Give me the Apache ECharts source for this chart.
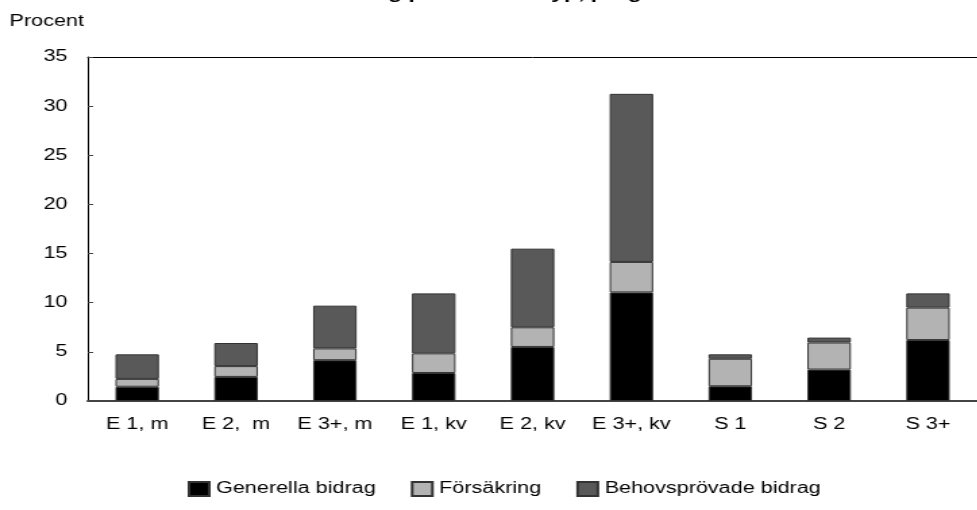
<!DOCTYPE html>
<html>
<head>
<meta charset="utf-8">
<script src="https://cdn.jsdelivr.net/npm/echarts@6/dist/echarts.min.js"></script>
<style>
  html, body { margin: 0; padding: 0; background: #fff; overflow: hidden; }
  /* the original picture is stretched sideways, so draw narrower and stretch */
  #chart { width: 724px; height: 510px; transform: scaleX(1.35); transform-origin: 0 0; }
</style>
</head>
<body>
<div id="chart"></div>
<script>
  // hushållstyper
  const categories = ['E 1, m', 'E 2,  m', 'E 3+, m', 'E 1, kv', 'E 2, kv', 'E 3+, kv', 'S 1', 'S 2', 'S 3+'];
  const generella = [1.45, 2.45, 4.15, 2.85, 5.5, 11.05, 1.5, 3.2, 6.2];
  const forsakring = [0.8, 1.1, 1.2, 2.0, 2.0, 3.1, 2.8, 2.75, 3.3];
  const behovsprovade = [2.5, 2.35, 4.35, 6.1, 8.0, 17.1, 0.45, 0.5, 1.45];
  const yTicks = [0, 5, 10, 15, 20, 25, 30, 35];

  const font = 'Liberation Sans, Arial, sans-serif';
  const chart = echarts.init(document.getElementById('chart'));

  function bar(name, data, color) {
    return {
      name: name,
      type: 'bar',
      stack: 'tot',
      data: data,
      barWidth: '44%',
      itemStyle: { color: color, borderColor: '#333', borderWidth: 1 },
    };
  }

  chart.setOption({
    animation: false,
    title: {
      text: 'Bidrag per hushållstyp, progressivitet',
      left: 392,
      textAlign: 'center',
      top: -19,
      textStyle: { fontFamily: font, fontSize: 17, fontWeight: 'bold', color: '#000' },
    },
    grid: { left: 65, right: -2, top: 57, bottom: 109 },
    legend: {
      bottom: 8,
      left: 134,
      itemWidth: 15,
      itemHeight: 14,
      itemGap: 26,
      icon: 'rect',
      textStyle: { fontFamily: font, fontSize: 16, color: '#000' },
    },
    graphic: [{
      type: 'text',
      left: 7,
      top: 14,
      style: { text: 'Procent', font: '16px ' + font, fill: '#000' },
    }],
    xAxis: [
      {
        type: 'category',
        data: categories,
        axisLine: { lineStyle: { color: '#444', width: 2 } },
        axisTick: { length: 6, lineStyle: { color: '#444' } },
        axisLabel: { interval: 0, fontFamily: font, fontSize: 16, color: '#000', margin: 16 },
      },
      {
        type: 'category',
        data: categories,
        position: 'top',
        axisLine: { lineStyle: { color: '#000', width: 1 } },
        axisTick: { show: false },
        axisLabel: { show: false },
      },
      {
        type: 'category',
        data: categories,
        position: 'bottom',
        axisLine: { show: false },
        axisTick: { inside: true, length: 7, lineStyle: { color: '#444' } },
        axisLabel: { show: false },
      },
    ],
    yAxis: {
      type: 'value',
      min: yTicks[0],
      max: yTicks[yTicks.length - 1],
      interval: 5,
      axisLine: { show: true, lineStyle: { color: '#000', width: 1 } },
      axisTick: { show: true, inside: true, length: 4, lineStyle: { color: '#444' } },
      axisLabel: { fontFamily: font, fontSize: 16, color: '#000', margin: 15 },
      splitLine: { show: false },
    },
    series: [
      bar('Generella bidrag', generella, '#000000'),
      bar('Försäkring', forsakring, '#b3b3b3'),
      bar('Behovsprövade bidrag', behovsprovade, '#595959'),
    ],
  });
</script>
</body>
</html>
